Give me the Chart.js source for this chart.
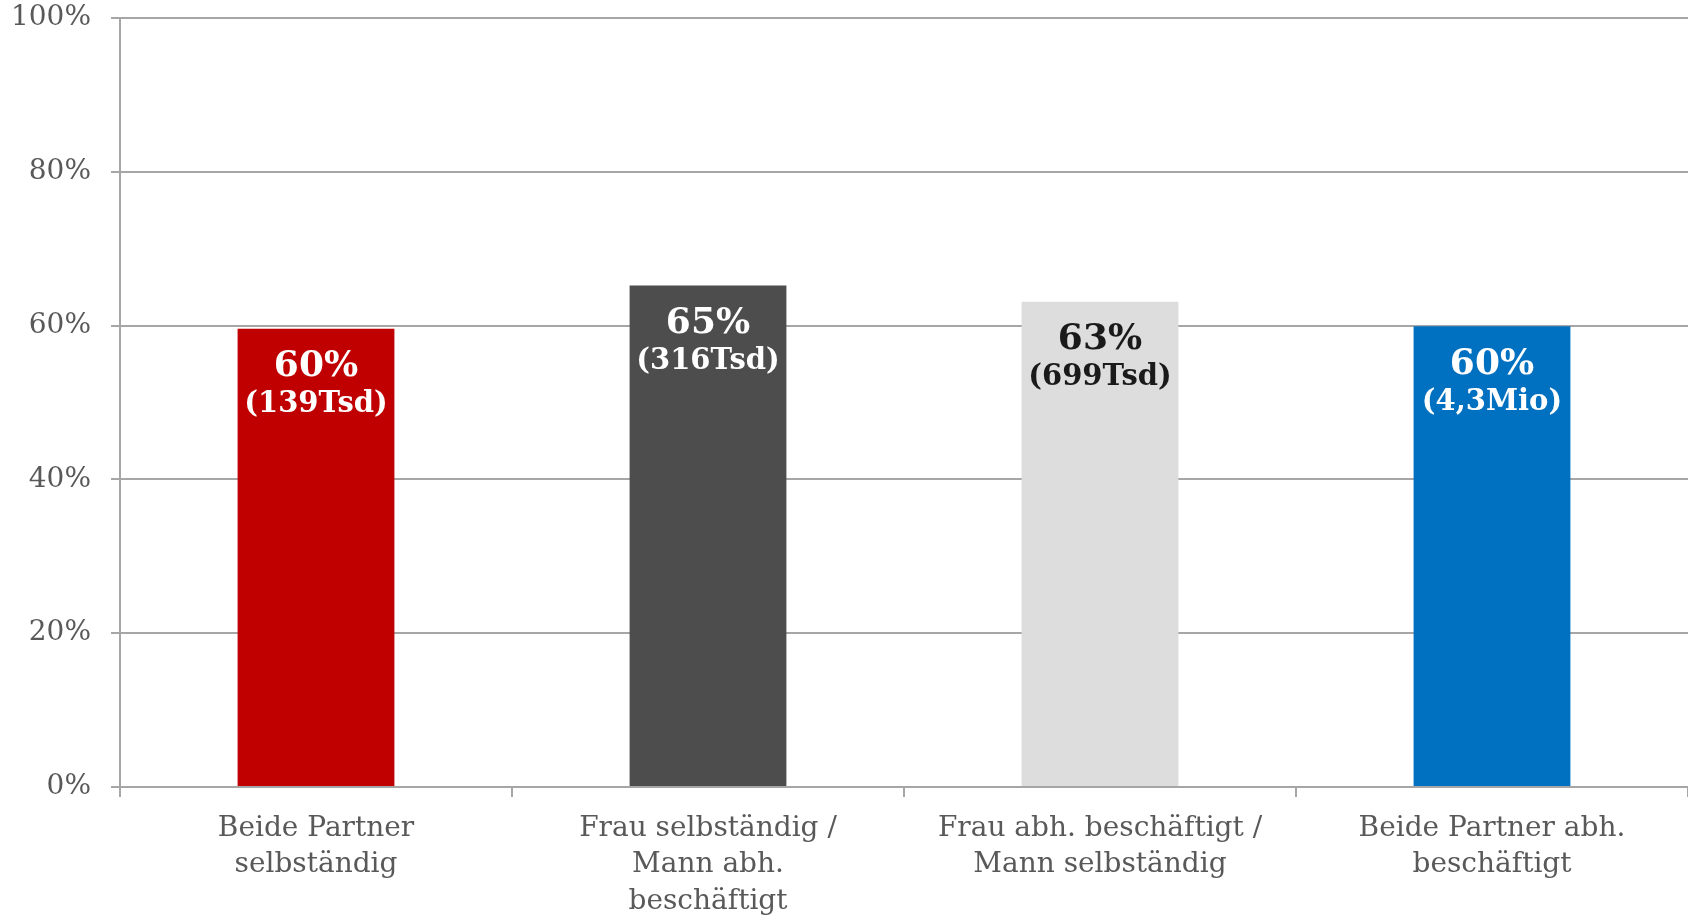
<!DOCTYPE html>
<html>
<head>
<meta charset="utf-8">
<script src="https://cdn.jsdelivr.net/npm/chart.js@4/dist/chart.umd.min.js"></script>
<style>
html,body{margin:0;padding:0;background:#fff;}
#wrap{width:1688px;height:915px;position:relative;}
</style>
</head>
<body>
<div id="wrap"><canvas id="c"></canvas></div>
<script>
const categories = [
  ["Beide Partner", "selbständig"],
  ["Frau selbständig /", "Mann abh.", "beschäftigt"],
  ["Frau abh. beschäftigt /", "Mann selbständig"],
  ["Beide Partner abh.", "beschäftigt"]
];
const values = [59.6, 65.2, 63.1, 59.9];
const pctLabels = ["60%", "65%", "63%", "60%"];
const countLabels = ["(139Tsd)", "(316Tsd)", "(699Tsd)", "(4,3Mio)"];
const barColors = ["#C00000", "#4D4D4D", "#DDDDDD", "#0070C0"];
const labelColors = ["#FFFFFF", "#FFFFFF", "#1A1A1A", "#FFFFFF"];
const yTicks = [0, 20, 40, 60, 80, 100];

const FONT = "'DejaVu Serif', Georgia, serif";

const barLabels = {
  id: 'barLabels',
  afterDatasetsDraw(chart) {
    const ctx = chart.ctx;
    const meta = chart.getDatasetMeta(0);
    ctx.save();
    ctx.textAlign = 'center';
    ctx.textBaseline = 'middle';
    meta.data.forEach((bar, i) => {
      ctx.fillStyle = labelColors[i];
      ctx.font = "bold 36px " + FONT;
      ctx.fillText(pctLabels[i], bar.x, bar.y + 38);
      ctx.font = "bold 29px " + FONT;
      ctx.fillText(countLabels[i], bar.x, bar.y + 76);
    });
    ctx.restore();
  }
};

new Chart(document.getElementById('c'), {
  type: 'bar',
  data: {
    labels: categories,
    datasets: [{
      data: values,
      backgroundColor: barColors,
      borderWidth: 0,
      barPercentage: 0.4,
      categoryPercentage: 1.0
    }]
  },
  options: {
    responsive: true,
    maintainAspectRatio: false,
    animation: false,
    layout: { padding: 0 },
    plugins: { legend: { display: false }, tooltip: { enabled: false } },
    scales: {
      x: {
        grid: { display: true, drawOnChartArea: false, drawTicks: true, tickLength: 10, color: '#A6A6A6', lineWidth: 2, offset: true },
        border: { display: true, color: '#A6A6A6', width: 2 },
        ticks: { color: '#595959', font: { family: FONT, size: 28, lineHeight: 1.31 }, padding: 13, maxRotation: 0, autoSkip: false },
        afterFit(scale) { scale.height = 128; scale.paddingTop = 0; scale.paddingBottom = 0; scale.paddingLeft = 0; scale.paddingRight = 0; }
      },
      y: {
        min: 0, max: 100,
        afterBuildTicks(scale) { scale.ticks = yTicks.map(v => ({ value: v })); },
        grid: { color: '#A6A6A6', lineWidth: 2, tickLength: 9 },
        border: { display: true, color: '#A6A6A6', width: 2 },
        ticks: { color: '#595959', font: { family: FONT, size: 28 }, padding: 20, callback: v => v + '%' },
        afterFit(scale) { scale.width = 120; scale.paddingTop = 18; scale.paddingBottom = 0; }
      }
    }
  },
  plugins: [barLabels]
});
</script>
</body>
</html>
